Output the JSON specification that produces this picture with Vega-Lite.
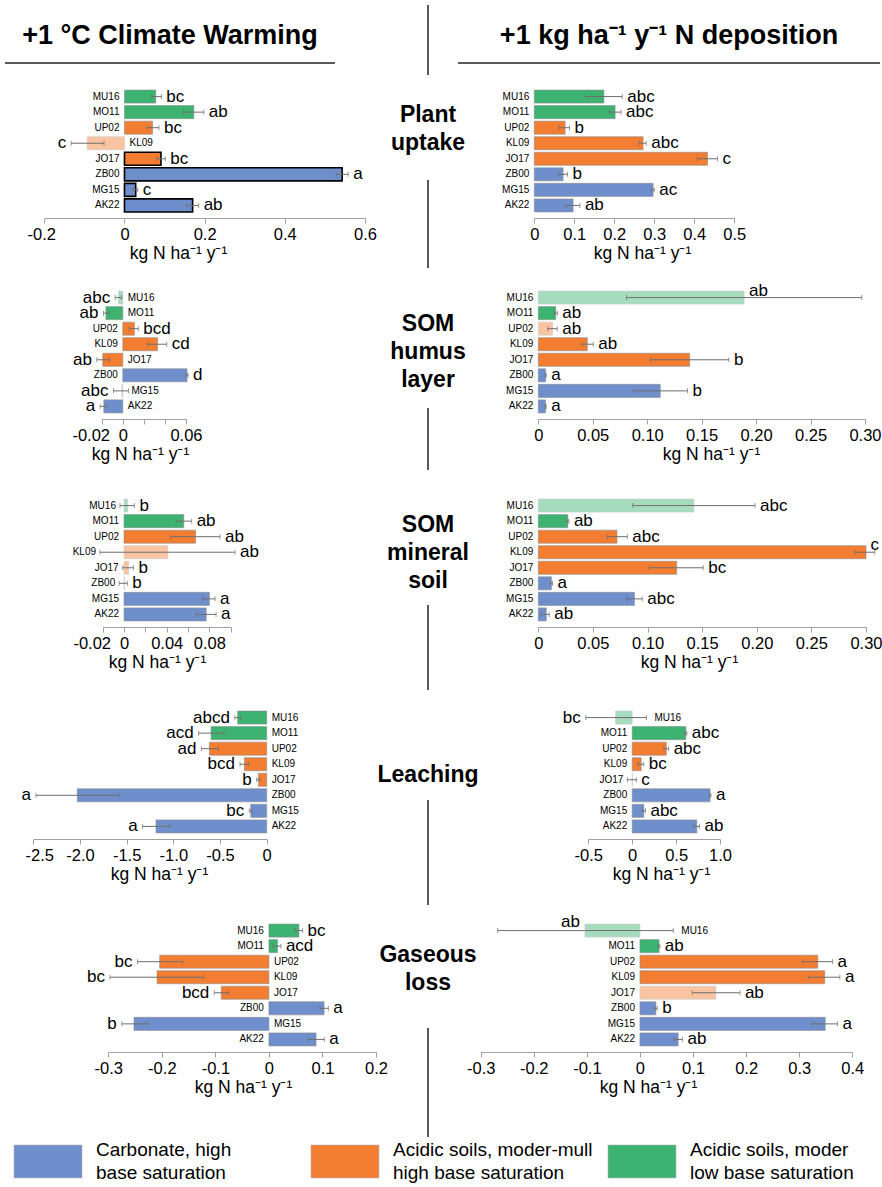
{
"$schema": "https://vega.github.io/schema/vega-lite/v6.json",
"padding": 0,
"background": "white",
"columns": 3,
"spacing": 0,
"bounds": "flush",
"align": "each",
"config": {
 "view": {"stroke": null},
 "font": "Liberation Sans",
 "locale": {"number": {"decimal": ".", "thousands": ",", "grouping": [3], "currency": ["$", ""], "minus": "-"}},
 "axis": {"domainColor": "#a0a0a0", "tickColor": "#a0a0a0", "tickSize": 5, "domainWidth": 1.2, "labelFontSize": 16.5, "labelColor": "#000", "titleFontSize": 17.5, "titleFontWeight": "normal", "titleColor": "#000", "grid": false, "labelFlush": false, "labelOverlap": false, "labelPadding": 3, "titlePadding": 2},
 "text": {"color": "#000"}
},
"datasets": {
 "sites": [
  {"site": "MU16", "group": "Moder"}, {"site": "MO11", "group": "Moder"},
  {"site": "UP02", "group": "ModerMull"}, {"site": "KL09", "group": "ModerMull"}, {"site": "JO17", "group": "ModerMull"},
  {"site": "ZB00", "group": "Carbonate"}, {"site": "MG15", "group": "Carbonate"}, {"site": "AK22", "group": "Carbonate"}
 ],
 "groups": [
  {"group": "Carbonate", "label": "Carbonate, high\nbase saturation"},
  {"group": "ModerMull", "label": "Acidic soils, moder-mull\nhigh base saturation"},
  {"group": "Moder", "label": "Acidic soils, moder\nlow base saturation"}
 ],
 "flux": [
  {"panel": "uptake_cw", "site": "MU16", "value": 0.078, "lo": 0.068, "hi": 0.092, "letter": "bc"},
  {"panel": "uptake_cw", "site": "MO11", "value": 0.173, "lo": 0.146, "hi": 0.198, "letter": "ab"},
  {"panel": "uptake_cw", "site": "UP02", "value": 0.070, "lo": 0.056, "hi": 0.086, "letter": "bc"},
  {"panel": "uptake_cw", "site": "KL09", "value": -0.093, "lo": -0.133, "hi": -0.051, "letter": "c", "uncertain": true},
  {"panel": "uptake_cw", "site": "JO17", "value": 0.091, "lo": 0.080, "hi": 0.102, "letter": "bc", "emphasis": true},
  {"panel": "uptake_cw", "site": "ZB00", "value": 0.543, "lo": 0.528, "hi": 0.558, "letter": "a", "emphasis": true},
  {"panel": "uptake_cw", "site": "MG15", "value": 0.028, "lo": 0.022, "hi": 0.033, "letter": "c", "emphasis": true},
  {"panel": "uptake_cw", "site": "AK22", "value": 0.170, "lo": 0.155, "hi": 0.185, "letter": "ab", "emphasis": true},

  {"panel": "uptake_nd", "site": "MU16", "value": 0.174, "lo": 0.128, "hi": 0.220, "letter": "abc"},
  {"panel": "uptake_nd", "site": "MO11", "value": 0.202, "lo": 0.187, "hi": 0.217, "letter": "abc"},
  {"panel": "uptake_nd", "site": "UP02", "value": 0.077, "lo": 0.062, "hi": 0.088, "letter": "b"},
  {"panel": "uptake_nd", "site": "KL09", "value": 0.272, "lo": 0.262, "hi": 0.280, "letter": "abc"},
  {"panel": "uptake_nd", "site": "JO17", "value": 0.433, "lo": 0.408, "hi": 0.458, "letter": "c"},
  {"panel": "uptake_nd", "site": "ZB00", "value": 0.072, "lo": 0.060, "hi": 0.083, "letter": "b"},
  {"panel": "uptake_nd", "site": "MG15", "value": 0.297, "lo": 0.293, "hi": 0.300, "letter": "ac"},
  {"panel": "uptake_nd", "site": "AK22", "value": 0.097, "lo": 0.079, "hi": 0.114, "letter": "ab"},

  {"panel": "humus_cw", "site": "MU16", "value": -0.0041, "lo": -0.0072, "hi": -0.0010, "letter": "abc", "uncertain": true},
  {"panel": "humus_cw", "site": "MO11", "value": -0.0160, "lo": -0.0183, "hi": -0.0126, "letter": "ab"},
  {"panel": "humus_cw", "site": "UP02", "value": 0.0110, "lo": 0.0060, "hi": 0.0148, "letter": "bcd"},
  {"panel": "humus_cw", "site": "KL09", "value": 0.0330, "lo": 0.0234, "hi": 0.0417, "letter": "cd"},
  {"panel": "humus_cw", "site": "JO17", "value": -0.0190, "lo": -0.0246, "hi": -0.0126, "letter": "ab"},
  {"panel": "humus_cw", "site": "ZB00", "value": 0.0610, "lo": 0.0600, "hi": 0.0620, "letter": "d"},
  {"panel": "humus_cw", "site": "MG15", "value": -0.0008, "lo": -0.0088, "hi": 0.0054, "letter": "abc", "uncertain": true},
  {"panel": "humus_cw", "site": "AK22", "value": -0.0180, "lo": -0.0215, "hi": -0.0152, "letter": "a"},

  {"panel": "humus_nd", "site": "MU16", "value": 0.189, "lo": 0.081, "hi": 0.297, "letter": "ab", "uncertain": true},
  {"panel": "humus_nd", "site": "MO11", "value": 0.016, "lo": 0.0145, "hi": 0.0175, "letter": "ab"},
  {"panel": "humus_nd", "site": "UP02", "value": 0.013, "lo": 0.0086, "hi": 0.0174, "letter": "ab", "uncertain": true},
  {"panel": "humus_nd", "site": "KL09", "value": 0.045, "lo": 0.040, "hi": 0.0505, "letter": "ab"},
  {"panel": "humus_nd", "site": "JO17", "value": 0.139, "lo": 0.103, "hi": 0.175, "letter": "b"},
  {"panel": "humus_nd", "site": "ZB00", "value": 0.0067, "lo": 0.0062, "hi": 0.0072, "letter": "a"},
  {"panel": "humus_nd", "site": "MG15", "value": 0.112, "lo": 0.087, "hi": 0.137, "letter": "b"},
  {"panel": "humus_nd", "site": "AK22", "value": 0.0067, "lo": 0.0062, "hi": 0.0072, "letter": "a"},

  {"panel": "mineral_cw", "site": "MU16", "value": 0.0034, "lo": -0.0038, "hi": 0.0097, "letter": "b", "uncertain": true},
  {"panel": "mineral_cw", "site": "MO11", "value": 0.056, "lo": 0.0488, "hi": 0.0634, "letter": "ab"},
  {"panel": "mineral_cw", "site": "UP02", "value": 0.067, "lo": 0.0438, "hi": 0.090, "letter": "ab"},
  {"panel": "mineral_cw", "site": "KL09", "value": 0.041, "lo": -0.0225, "hi": 0.104, "letter": "ab", "uncertain": true},
  {"panel": "mineral_cw", "site": "JO17", "value": 0.0044, "lo": -0.0013, "hi": 0.0088, "letter": "b", "uncertain": true},
  {"panel": "mineral_cw", "site": "ZB00", "value": 0.0003, "lo": -0.0045, "hi": 0.0031, "letter": "b", "uncertain": true},
  {"panel": "mineral_cw", "site": "MG15", "value": 0.080, "lo": 0.0738, "hi": 0.0853, "letter": "a"},
  {"panel": "mineral_cw", "site": "AK22", "value": 0.077, "lo": 0.0675, "hi": 0.0863, "letter": "a"},

  {"panel": "mineral_nd", "site": "MU16", "value": 0.1425, "lo": 0.0864, "hi": 0.1984, "letter": "abc", "uncertain": true},
  {"panel": "mineral_nd", "site": "MO11", "value": 0.027, "lo": 0.026, "hi": 0.028, "letter": "ab"},
  {"panel": "mineral_nd", "site": "UP02", "value": 0.072, "lo": 0.063, "hi": 0.0815, "letter": "abc"},
  {"panel": "mineral_nd", "site": "KL09", "value": 0.300, "lo": 0.290, "hi": 0.308, "letter": "c"},
  {"panel": "mineral_nd", "site": "JO17", "value": 0.1267, "lo": 0.1016, "hi": 0.151, "letter": "bc"},
  {"panel": "mineral_nd", "site": "ZB00", "value": 0.012, "lo": 0.011, "hi": 0.013, "letter": "a"},
  {"panel": "mineral_nd", "site": "MG15", "value": 0.088, "lo": 0.0809, "hi": 0.0952, "letter": "abc"},
  {"panel": "mineral_nd", "site": "AK22", "value": 0.0073, "lo": 0.0021, "hi": 0.0101, "letter": "ab"},

  {"panel": "leach_cw", "site": "MU16", "value": -0.311, "lo": -0.34, "hi": -0.28, "letter": "abcd"},
  {"panel": "leach_cw", "site": "MO11", "value": -0.596, "lo": -0.729, "hi": -0.457, "letter": "acd"},
  {"panel": "leach_cw", "site": "UP02", "value": -0.614, "lo": -0.700, "hi": -0.518, "letter": "ad"},
  {"panel": "leach_cw", "site": "KL09", "value": -0.239, "lo": -0.286, "hi": -0.196, "letter": "bcd"},
  {"panel": "leach_cw", "site": "JO17", "value": -0.089, "lo": -0.107, "hi": -0.071, "letter": "b"},
  {"panel": "leach_cw", "site": "ZB00", "value": -2.029, "lo": -2.471, "hi": -1.582, "letter": "a"},
  {"panel": "leach_cw", "site": "MG15", "value": -0.171, "lo": -0.186, "hi": -0.157, "letter": "bc"},
  {"panel": "leach_cw", "site": "AK22", "value": -1.186, "lo": -1.329, "hi": -1.036, "letter": "a"},

  {"panel": "leach_nd", "site": "MU16", "value": -0.189, "lo": -0.528, "hi": 0.162, "letter": "bc", "uncertain": true},
  {"panel": "leach_nd", "site": "MO11", "value": 0.611, "lo": 0.600, "hi": 0.622, "letter": "abc"},
  {"panel": "leach_nd", "site": "UP02", "value": 0.389, "lo": 0.360, "hi": 0.415, "letter": "abc"},
  {"panel": "leach_nd", "site": "KL09", "value": 0.102, "lo": 0.064, "hi": 0.132, "letter": "bc"},
  {"panel": "leach_nd", "site": "JO17", "value": 0.003, "lo": -0.055, "hi": 0.047, "letter": "c", "uncertain": true},
  {"panel": "leach_nd", "site": "ZB00", "value": 0.887, "lo": 0.877, "hi": 0.897, "letter": "a"},
  {"panel": "leach_nd", "site": "MG15", "value": 0.132, "lo": 0.113, "hi": 0.151, "letter": "abc"},
  {"panel": "leach_nd", "site": "AK22", "value": 0.736, "lo": 0.700, "hi": 0.766, "letter": "ab"},

  {"panel": "gas_cw", "site": "MU16", "value": 0.056, "lo": 0.0486, "hi": 0.0629, "letter": "bc"},
  {"panel": "gas_cw", "site": "MO11", "value": 0.016, "lo": 0.0081, "hi": 0.0224, "letter": "acd"},
  {"panel": "gas_cw", "site": "UP02", "value": -0.204, "lo": -0.2455, "hi": -0.161, "letter": "bc"},
  {"panel": "gas_cw", "site": "KL09", "value": -0.209, "lo": -0.297, "hi": -0.1215, "letter": "bc"},
  {"panel": "gas_cw", "site": "JO17", "value": -0.089, "lo": -0.102, "hi": -0.075, "letter": "bcd"},
  {"panel": "gas_cw", "site": "ZB00", "value": 0.103, "lo": 0.0953, "hi": 0.111, "letter": "a"},
  {"panel": "gas_cw", "site": "MG15", "value": -0.252, "lo": -0.2748, "hi": -0.2268, "letter": "b"},
  {"panel": "gas_cw", "site": "AK22", "value": 0.088, "lo": 0.0735, "hi": 0.1034, "letter": "a"},

  {"panel": "gas_nd", "site": "MU16", "value": -0.1036, "lo": -0.268, "hi": 0.0628, "letter": "ab", "uncertain": true},
  {"panel": "gas_nd", "site": "MO11", "value": 0.036, "lo": 0.0345, "hi": 0.0375, "letter": "ab"},
  {"panel": "gas_nd", "site": "UP02", "value": 0.335, "lo": 0.3063, "hi": 0.3628, "letter": "a"},
  {"panel": "gas_nd", "site": "KL09", "value": 0.348, "lo": 0.317, "hi": 0.3766, "letter": "a"},
  {"panel": "gas_nd", "site": "JO17", "value": 0.143, "lo": 0.0986, "hi": 0.1883, "letter": "ab", "uncertain": true},
  {"panel": "gas_nd", "site": "ZB00", "value": 0.030, "lo": 0.0275, "hi": 0.0325, "letter": "b"},
  {"panel": "gas_nd", "site": "MG15", "value": 0.349, "lo": 0.325, "hi": 0.372, "letter": "a"},
  {"panel": "gas_nd", "site": "AK22", "value": 0.072, "lo": 0.064, "hi": 0.080, "letter": "ab"}
 ]
},
"concat": [
 {"width": 410, "height": 63, "data": {"values": [{}]}, "layer": [
  {"mark": {"type": "text", "text": "+1 °C Climate Warming", "fontSize": 27, "fontWeight": "bold", "dy": 4}, "encoding": {"x": {"datum": 0.5, "type": "quantitative", "scale": {"domain": [0, 1], "range": [5, 335]}, "axis": null}}},
  {"mark": {"type": "rule", "strokeWidth": 1.5, "color": "#222"}, "encoding": {"x": {"datum": 0, "type": "quantitative", "scale": {"domain": [0, 1], "range": [5, 335]}, "axis": null}, "x2": {"datum": 1}, "y": {"datum": 0, "type": "quantitative", "scale": {"domain": [0, 1]}, "axis": null}}}
 ]},
 {"width": 36, "height": 84, "data": {"values": [{}]}, "mark": {"type": "rule", "strokeWidth": 1.3, "color": "#000"}, "encoding": {"y": {"datum": 0.06, "type": "quantitative", "scale": {"domain": [0, 1], "reverse": true}, "axis": null}, "y2": {"datum": 0.893}}},
 {"width": 436, "height": 63, "data": {"values": [{}]}, "layer": [
  {"mark": {"type": "text", "text": "+1 kg ha⁻¹ y⁻¹ N deposition", "fontSize": 27, "fontWeight": "bold", "dy": 4}, "encoding": {"x": {"datum": 0.5, "type": "quantitative", "scale": {"domain": [0, 1], "range": [12, 434]}, "axis": null}}},
  {"mark": {"type": "rule", "strokeWidth": 1.5, "color": "#222"}, "encoding": {"x": {"datum": 0, "type": "quantitative", "scale": {"domain": [0, 1], "range": [12, 434]}, "axis": null}, "x2": {"datum": 1}, "y": {"datum": 0, "type": "quantitative", "scale": {"domain": [0, 1]}, "axis": null}}}
 ]},

 {"width": 410, "height": 134, "data": {"name": "flux"},
  "transform": [{"filter": "datum.panel === 'uptake_cw'"}, {"lookup": "site", "from": {"data": {"name": "sites"}, "key": "site", "fields": ["group"]}}],
  "encoding": {"y": {"field": "site", "type": "nominal", "sort": ["MU16", "MO11", "UP02", "KL09", "JO17", "ZB00", "MG15", "AK22"], "scale": {"paddingInner": 0.16, "paddingOuter": 0.39}, "axis": null}},
  "layer": [
   {"mark": {"type": "bar"}, "encoding": {
    "x": {"field": "value", "type": "quantitative", "title": "kg N ha⁻¹ y⁻¹", "scale": {"domain": [-0.2, 0.6], "range": [44.3, 365], "nice": false}, "axis": {"values": [-0.2, 0, 0.2, 0.4, 0.6], "format": ".1~f", "titleX": 178, "labelOffset": {"condition": {"test": "datum.value < 0", "value": -3}, "value": 0}}},
    "color": {"field": "group", "type": "nominal", "scale": {"domain": ["Carbonate", "ModerMull", "Moder"], "range": ["#6f8fcc", "#f37d31", "#3cb371"]}, "legend": null},
    "opacity": {"condition": {"test": "datum.uncertain", "value": 0.45}, "value": 1},
    "stroke": {"condition": {"test": "datum.emphasis", "value": "#000000"}, "value": "#8c8c8c"},
    "strokeWidth": {"condition": {"test": "datum.emphasis", "value": 1.6}, "value": 0.6}}},
   {"mark": {"type": "errorbar", "ticks": true, "size": 5, "thickness": 1, "color": "#6e6e6e"}, "encoding": {"x": {"field": "lo", "type": "quantitative", "title": "kg N ha⁻¹ y⁻¹"}, "x2": {"field": "hi"}}},
   {"transform": [{"filter": "datum.value >= 0 && datum.lo >= 0"}], "mark": {"type": "text", "align": "right", "dx": -5, "fontSize": 10}, "encoding": {"x": {"datum": 0, "type": "quantitative", "title": "kg N ha⁻¹ y⁻¹"}, "text": {"field": "site"}}},
   {"transform": [{"filter": "datum.value >= 0 && datum.lo < 0"}], "mark": {"type": "text", "align": "right", "dx": -4, "fontSize": 10}, "encoding": {"x": {"field": "lo", "type": "quantitative", "title": "kg N ha⁻¹ y⁻¹"}, "text": {"field": "site"}}},
   {"transform": [{"filter": "datum.value < 0 && datum.hi <= 0"}], "mark": {"type": "text", "align": "left", "dx": 5, "fontSize": 10}, "encoding": {"x": {"datum": 0, "type": "quantitative", "title": "kg N ha⁻¹ y⁻¹"}, "text": {"field": "site"}}},
   {"transform": [{"filter": "datum.value < 0 && datum.hi > 0"}], "mark": {"type": "text", "align": "left", "dx": 5, "fontSize": 10}, "encoding": {"x": {"field": "hi", "type": "quantitative", "title": "kg N ha⁻¹ y⁻¹"}, "text": {"field": "site"}}},
   {"transform": [{"filter": "datum.value >= 0"}], "mark": {"type": "text", "align": "left", "dx": 5, "fontSize": 17}, "encoding": {"x": {"field": "hi", "type": "quantitative", "title": "kg N ha⁻¹ y⁻¹"}, "text": {"field": "letter"}}},
   {"transform": [{"filter": "datum.value < 0"}], "mark": {"type": "text", "align": "right", "dx": -5, "fontSize": 17}, "encoding": {"x": {"field": "lo", "type": "quantitative", "title": "kg N ha⁻¹ y⁻¹"}, "text": {"field": "letter"}}}
  ]},
 {"width": 36, "height": 201, "data": {"values": [{}]}, "layer": [
  {"mark": {"type": "text", "text": ["Plant", "uptake"], "fontSize": 23, "fontWeight": "bold", "lineHeight": 28, "dy": -14}, "encoding": {"y": {"datum": 0.224, "type": "quantitative", "scale": {"domain": [0, 1], "reverse": true}, "axis": null}}},
  {"mark": {"type": "rule", "strokeWidth": 1.3, "color": "#000"}, "encoding": {"y": {"datum": 0.478, "type": "quantitative", "scale": {"domain": [0, 1], "reverse": true}, "axis": null}, "y2": {"datum": 0.915}}}
 ]},
 {"width": 436, "height": 134, "data": {"name": "flux"},
  "transform": [{"filter": "datum.panel === 'uptake_nd'"}, {"lookup": "site", "from": {"data": {"name": "sites"}, "key": "site", "fields": ["group"]}}],
  "encoding": {"y": {"field": "site", "type": "nominal", "sort": ["MU16", "MO11", "UP02", "KL09", "JO17", "ZB00", "MG15", "AK22"], "scale": {"paddingInner": 0.16, "paddingOuter": 0.39}, "axis": null}},
  "layer": [
   {"mark": {"type": "bar"}, "encoding": {
    "x": {"field": "value", "type": "quantitative", "title": "kg N ha⁻¹ y⁻¹", "scale": {"domain": [0, 0.5], "range": [88.3, 288.3], "nice": false}, "axis": {"values": [0, 0.1, 0.2, 0.3, 0.4, 0.5], "format": ".1~f", "titleX": 196}},
    "color": {"field": "group", "type": "nominal", "scale": {"domain": ["Carbonate", "ModerMull", "Moder"], "range": ["#6f8fcc", "#f37d31", "#3cb371"]}, "legend": null},
    "opacity": {"condition": {"test": "datum.uncertain", "value": 0.45}, "value": 1},
    "stroke": {"condition": {"test": "datum.emphasis", "value": "#000000"}, "value": "#8c8c8c"},
    "strokeWidth": {"condition": {"test": "datum.emphasis", "value": 1.6}, "value": 0.6}}},
   {"mark": {"type": "errorbar", "ticks": true, "size": 5, "thickness": 1, "color": "#6e6e6e"}, "encoding": {"x": {"field": "lo", "type": "quantitative", "title": "kg N ha⁻¹ y⁻¹"}, "x2": {"field": "hi"}}},
   {"transform": [{"filter": "datum.value >= 0 && datum.lo >= 0"}], "mark": {"type": "text", "align": "right", "dx": -5, "fontSize": 10}, "encoding": {"x": {"datum": 0, "type": "quantitative", "title": "kg N ha⁻¹ y⁻¹"}, "text": {"field": "site"}}},
   {"transform": [{"filter": "datum.value >= 0 && datum.lo < 0"}], "mark": {"type": "text", "align": "right", "dx": -4, "fontSize": 10}, "encoding": {"x": {"field": "lo", "type": "quantitative", "title": "kg N ha⁻¹ y⁻¹"}, "text": {"field": "site"}}},
   {"transform": [{"filter": "datum.value < 0 && datum.hi <= 0"}], "mark": {"type": "text", "align": "left", "dx": 5, "fontSize": 10}, "encoding": {"x": {"datum": 0, "type": "quantitative", "title": "kg N ha⁻¹ y⁻¹"}, "text": {"field": "site"}}},
   {"transform": [{"filter": "datum.value < 0 && datum.hi > 0"}], "mark": {"type": "text", "align": "left", "dx": 5, "fontSize": 10}, "encoding": {"x": {"field": "hi", "type": "quantitative", "title": "kg N ha⁻¹ y⁻¹"}, "text": {"field": "site"}}},
   {"transform": [{"filter": "datum.value >= 0"}], "mark": {"type": "text", "align": "left", "dx": 5, "fontSize": 17}, "encoding": {"x": {"field": "hi", "type": "quantitative", "title": "kg N ha⁻¹ y⁻¹"}, "text": {"field": "letter"}}},
   {"transform": [{"filter": "datum.value < 0"}], "mark": {"type": "text", "align": "right", "dx": -5, "fontSize": 17}, "encoding": {"x": {"field": "lo", "type": "quantitative", "title": "kg N ha⁻¹ y⁻¹"}, "text": {"field": "letter"}}}
  ]},

 {"width": 410, "height": 134, "data": {"name": "flux"},
  "transform": [{"filter": "datum.panel === 'humus_cw'"}, {"lookup": "site", "from": {"data": {"name": "sites"}, "key": "site", "fields": ["group"]}}],
  "encoding": {"y": {"field": "site", "type": "nominal", "sort": ["MU16", "MO11", "UP02", "KL09", "JO17", "ZB00", "MG15", "AK22"], "scale": {"paddingInner": 0.16, "paddingOuter": 0.39}, "axis": null}},
  "layer": [
   {"mark": {"type": "bar"}, "encoding": {
    "x": {"field": "value", "type": "quantitative", "title": "kg N ha⁻¹ y⁻¹", "scale": {"domain": [-0.02, 0.06], "range": [101.7, 186], "nice": false}, "axis": {"values": [-0.02, 0, 0.02, 0.04, 0.06], "titleX": 140, "labelExpr": "datum.value === 0.02 || datum.value === 0.04 ? '' : datum.value === 0 ? '0' : format(datum.value, '.2f')", "labelOffset": {"condition": {"test": "datum.value < 0", "value": -11}, "value": 0}}},
    "color": {"field": "group", "type": "nominal", "scale": {"domain": ["Carbonate", "ModerMull", "Moder"], "range": ["#6f8fcc", "#f37d31", "#3cb371"]}, "legend": null},
    "opacity": {"condition": {"test": "datum.uncertain", "value": 0.45}, "value": 1},
    "stroke": {"condition": {"test": "datum.emphasis", "value": "#000000"}, "value": "#8c8c8c"},
    "strokeWidth": {"condition": {"test": "datum.emphasis", "value": 1.6}, "value": 0.6}}},
   {"mark": {"type": "errorbar", "ticks": true, "size": 5, "thickness": 1, "color": "#6e6e6e"}, "encoding": {"x": {"field": "lo", "type": "quantitative", "title": "kg N ha⁻¹ y⁻¹"}, "x2": {"field": "hi"}}},
   {"transform": [{"filter": "datum.value >= 0 && datum.lo >= 0"}], "mark": {"type": "text", "align": "right", "dx": -5, "fontSize": 10}, "encoding": {"x": {"datum": 0, "type": "quantitative", "title": "kg N ha⁻¹ y⁻¹"}, "text": {"field": "site"}}},
   {"transform": [{"filter": "datum.value >= 0 && datum.lo < 0"}], "mark": {"type": "text", "align": "right", "dx": -4, "fontSize": 10}, "encoding": {"x": {"field": "lo", "type": "quantitative", "title": "kg N ha⁻¹ y⁻¹"}, "text": {"field": "site"}}},
   {"transform": [{"filter": "datum.value < 0 && datum.hi <= 0"}], "mark": {"type": "text", "align": "left", "dx": 5, "fontSize": 10}, "encoding": {"x": {"datum": 0, "type": "quantitative", "title": "kg N ha⁻¹ y⁻¹"}, "text": {"field": "site"}}},
   {"transform": [{"filter": "datum.value < 0 && datum.hi > 0"}], "mark": {"type": "text", "align": "left", "dx": 3, "fontSize": 10}, "encoding": {"x": {"field": "hi", "type": "quantitative", "title": "kg N ha⁻¹ y⁻¹"}, "text": {"field": "site"}}},
   {"transform": [{"filter": "datum.value >= 0"}], "mark": {"type": "text", "align": "left", "dx": 5, "fontSize": 17}, "encoding": {"x": {"field": "hi", "type": "quantitative", "title": "kg N ha⁻¹ y⁻¹"}, "text": {"field": "letter"}}},
   {"transform": [{"filter": "datum.value < 0"}], "mark": {"type": "text", "align": "right", "dx": -5, "fontSize": 17}, "encoding": {"x": {"field": "lo", "type": "quantitative", "title": "kg N ha⁻¹ y⁻¹"}, "text": {"field": "letter"}}}
  ]},
 {"width": 36, "height": 208, "data": {"values": [{}]}, "layer": [
  {"mark": {"type": "text", "text": ["SOM", "humus", "layer"], "fontSize": 23, "fontWeight": "bold", "lineHeight": 28, "dy": -28}, "encoding": {"y": {"datum": 0.322, "type": "quantitative", "scale": {"domain": [0, 1], "reverse": true}, "axis": null}}},
  {"mark": {"type": "rule", "strokeWidth": 1.3, "color": "#000"}, "encoding": {"y": {"datum": 0.591, "type": "quantitative", "scale": {"domain": [0, 1], "reverse": true}, "axis": null}, "y2": {"datum": 0.889}}}
 ]},
 {"width": 436, "height": 134, "data": {"name": "flux"},
  "transform": [{"filter": "datum.panel === 'humus_nd'"}, {"lookup": "site", "from": {"data": {"name": "sites"}, "key": "site", "fields": ["group"]}}],
  "encoding": {"y": {"field": "site", "type": "nominal", "sort": ["MU16", "MO11", "UP02", "KL09", "JO17", "ZB00", "MG15", "AK22"], "scale": {"paddingInner": 0.16, "paddingOuter": 0.39}, "axis": null}},
  "layer": [
   {"mark": {"type": "bar"}, "encoding": {
    "x": {"field": "value", "type": "quantitative", "title": "kg N ha⁻¹ y⁻¹", "scale": {"domain": [0, 0.3], "range": [92.3, 419], "nice": false}, "axis": {"values": [0, 0.05, 0.1, 0.15, 0.2, 0.25, 0.3], "titleX": 265, "labelExpr": "datum.value === 0 ? '0' : format(datum.value, '.2f')"}},
    "color": {"field": "group", "type": "nominal", "scale": {"domain": ["Carbonate", "ModerMull", "Moder"], "range": ["#6f8fcc", "#f37d31", "#3cb371"]}, "legend": null},
    "opacity": {"condition": {"test": "datum.uncertain", "value": 0.45}, "value": 1},
    "stroke": {"condition": {"test": "datum.emphasis", "value": "#000000"}, "value": "#8c8c8c"},
    "strokeWidth": {"condition": {"test": "datum.emphasis", "value": 1.6}, "value": 0.6}}},
   {"mark": {"type": "errorbar", "ticks": true, "size": 5, "thickness": 1, "color": "#6e6e6e"}, "encoding": {"x": {"field": "lo", "type": "quantitative", "title": "kg N ha⁻¹ y⁻¹"}, "x2": {"field": "hi"}}},
   {"transform": [{"filter": "datum.value >= 0 && datum.lo >= 0"}], "mark": {"type": "text", "align": "right", "dx": -5, "fontSize": 10}, "encoding": {"x": {"datum": 0, "type": "quantitative", "title": "kg N ha⁻¹ y⁻¹"}, "text": {"field": "site"}}},
   {"transform": [{"filter": "datum.value >= 0 && datum.lo < 0"}], "mark": {"type": "text", "align": "right", "dx": -4, "fontSize": 10}, "encoding": {"x": {"field": "lo", "type": "quantitative", "title": "kg N ha⁻¹ y⁻¹"}, "text": {"field": "site"}}},
   {"transform": [{"filter": "datum.value < 0 && datum.hi <= 0"}], "mark": {"type": "text", "align": "left", "dx": 5, "fontSize": 10}, "encoding": {"x": {"datum": 0, "type": "quantitative", "title": "kg N ha⁻¹ y⁻¹"}, "text": {"field": "site"}}},
   {"transform": [{"filter": "datum.value < 0 && datum.hi > 0"}], "mark": {"type": "text", "align": "left", "dx": 5, "fontSize": 10}, "encoding": {"x": {"field": "hi", "type": "quantitative", "title": "kg N ha⁻¹ y⁻¹"}, "text": {"field": "site"}}},
   {"transform": [{"filter": "datum.value >= 0 && datum.hi < 0.25"}], "mark": {"type": "text", "align": "left", "dx": 5, "fontSize": 17}, "encoding": {"x": {"field": "hi", "type": "quantitative", "title": "kg N ha⁻¹ y⁻¹"}, "text": {"field": "letter"}}},
   {"transform": [{"filter": "datum.hi >= 0.25"}], "mark": {"type": "text", "align": "left", "dx": 5, "dy": -7, "fontSize": 17}, "encoding": {"x": {"field": "value", "type": "quantitative", "title": "kg N ha⁻¹ y⁻¹"}, "text": {"field": "letter"}}},
   {"transform": [{"filter": "datum.value < 0"}], "mark": {"type": "text", "align": "right", "dx": -5, "fontSize": 17}, "encoding": {"x": {"field": "lo", "type": "quantitative", "title": "kg N ha⁻¹ y⁻¹"}, "text": {"field": "letter"}}}
  ]},

 {"width": 410, "height": 134, "data": {"name": "flux"},
  "transform": [{"filter": "datum.panel === 'mineral_cw'"}, {"lookup": "site", "from": {"data": {"name": "sites"}, "key": "site", "fields": ["group"]}}],
  "encoding": {"y": {"field": "site", "type": "nominal", "sort": ["MU16", "MO11", "UP02", "KL09", "JO17", "ZB00", "MG15", "AK22"], "scale": {"paddingInner": 0.16, "paddingOuter": 0.39}, "axis": null}},
  "layer": [
   {"mark": {"type": "bar"}, "encoding": {
    "x": {"field": "value", "type": "quantitative", "title": "kg N ha⁻¹ y⁻¹", "scale": {"domain": [-0.02, 0.1], "range": [102.7, 230.7], "nice": false}, "axis": {"values": [-0.02, 0, 0.02, 0.04, 0.06, 0.08, 0.1], "titleX": 157, "labelExpr": "datum.value === 0.02 || datum.value === 0.06 || datum.value === 0.1 ? '' : datum.value === 0 ? '0' : format(datum.value, '.2f')", "labelOffset": {"condition": {"test": "datum.value < 0", "value": -11}, "value": 0}}},
    "color": {"field": "group", "type": "nominal", "scale": {"domain": ["Carbonate", "ModerMull", "Moder"], "range": ["#6f8fcc", "#f37d31", "#3cb371"]}, "legend": null},
    "opacity": {"condition": {"test": "datum.uncertain", "value": 0.45}, "value": 1},
    "stroke": {"condition": {"test": "datum.emphasis", "value": "#000000"}, "value": "#8c8c8c"},
    "strokeWidth": {"condition": {"test": "datum.emphasis", "value": 1.6}, "value": 0.6}}},
   {"mark": {"type": "errorbar", "ticks": true, "size": 5, "thickness": 1, "color": "#6e6e6e"}, "encoding": {"x": {"field": "lo", "type": "quantitative", "title": "kg N ha⁻¹ y⁻¹"}, "x2": {"field": "hi"}}},
   {"transform": [{"filter": "datum.value >= 0 && datum.lo >= 0"}], "mark": {"type": "text", "align": "right", "dx": -5, "fontSize": 10}, "encoding": {"x": {"datum": 0, "type": "quantitative", "title": "kg N ha⁻¹ y⁻¹"}, "text": {"field": "site"}}},
   {"transform": [{"filter": "datum.value >= 0 && datum.lo < 0"}], "mark": {"type": "text", "align": "right", "dx": -4, "fontSize": 10}, "encoding": {"x": {"field": "lo", "type": "quantitative", "title": "kg N ha⁻¹ y⁻¹"}, "text": {"field": "site"}}},
   {"transform": [{"filter": "datum.value < 0 && datum.hi <= 0"}], "mark": {"type": "text", "align": "left", "dx": 5, "fontSize": 10}, "encoding": {"x": {"datum": 0, "type": "quantitative", "title": "kg N ha⁻¹ y⁻¹"}, "text": {"field": "site"}}},
   {"transform": [{"filter": "datum.value < 0 && datum.hi > 0"}], "mark": {"type": "text", "align": "left", "dx": 5, "fontSize": 10}, "encoding": {"x": {"field": "hi", "type": "quantitative", "title": "kg N ha⁻¹ y⁻¹"}, "text": {"field": "site"}}},
   {"transform": [{"filter": "datum.value >= 0"}], "mark": {"type": "text", "align": "left", "dx": 5, "fontSize": 17}, "encoding": {"x": {"field": "hi", "type": "quantitative", "title": "kg N ha⁻¹ y⁻¹"}, "text": {"field": "letter"}}},
   {"transform": [{"filter": "datum.value < 0"}], "mark": {"type": "text", "align": "right", "dx": -5, "fontSize": 17}, "encoding": {"x": {"field": "lo", "type": "quantitative", "title": "kg N ha⁻¹ y⁻¹"}, "text": {"field": "letter"}}}
  ]},
 {"width": 36, "height": 212, "data": {"values": [{}]}, "layer": [
  {"mark": {"type": "text", "text": ["SOM", "mineral", "soil"], "fontSize": 23, "fontWeight": "bold", "lineHeight": 28, "dy": -28}, "encoding": {"y": {"datum": 0.283, "type": "quantitative", "scale": {"domain": [0, 1], "reverse": true}, "axis": null}}},
  {"mark": {"type": "rule", "strokeWidth": 1.3, "color": "#000"}, "encoding": {"y": {"datum": 0.528, "type": "quantitative", "scale": {"domain": [0, 1], "reverse": true}, "axis": null}, "y2": {"datum": 0.929}}}
 ]},
 {"width": 436, "height": 134, "data": {"name": "flux"},
  "transform": [{"filter": "datum.panel === 'mineral_nd'"}, {"lookup": "site", "from": {"data": {"name": "sites"}, "key": "site", "fields": ["group"]}}],
  "encoding": {"y": {"field": "site", "type": "nominal", "sort": ["MU16", "MO11", "UP02", "KL09", "JO17", "ZB00", "MG15", "AK22"], "scale": {"paddingInner": 0.16, "paddingOuter": 0.39}, "axis": null}},
  "layer": [
   {"mark": {"type": "bar"}, "encoding": {
    "x": {"field": "value", "type": "quantitative", "title": "kg N ha⁻¹ y⁻¹", "scale": {"domain": [0, 0.3], "range": [92.3, 420], "nice": false}, "axis": {"values": [0, 0.05, 0.1, 0.15, 0.2, 0.25, 0.3], "titleX": 243, "labelExpr": "datum.value === 0 ? '0' : format(datum.value, '.2f')"}},
    "color": {"field": "group", "type": "nominal", "scale": {"domain": ["Carbonate", "ModerMull", "Moder"], "range": ["#6f8fcc", "#f37d31", "#3cb371"]}, "legend": null},
    "opacity": {"condition": {"test": "datum.uncertain", "value": 0.45}, "value": 1},
    "stroke": {"condition": {"test": "datum.emphasis", "value": "#000000"}, "value": "#8c8c8c"},
    "strokeWidth": {"condition": {"test": "datum.emphasis", "value": 1.6}, "value": 0.6}}},
   {"mark": {"type": "errorbar", "ticks": true, "size": 5, "thickness": 1, "color": "#6e6e6e"}, "encoding": {"x": {"field": "lo", "type": "quantitative", "title": "kg N ha⁻¹ y⁻¹"}, "x2": {"field": "hi"}}},
   {"transform": [{"filter": "datum.value >= 0 && datum.lo >= 0"}], "mark": {"type": "text", "align": "right", "dx": -5, "fontSize": 10}, "encoding": {"x": {"datum": 0, "type": "quantitative", "title": "kg N ha⁻¹ y⁻¹"}, "text": {"field": "site"}}},
   {"transform": [{"filter": "datum.value >= 0 && datum.lo < 0"}], "mark": {"type": "text", "align": "right", "dx": -4, "fontSize": 10}, "encoding": {"x": {"field": "lo", "type": "quantitative", "title": "kg N ha⁻¹ y⁻¹"}, "text": {"field": "site"}}},
   {"transform": [{"filter": "datum.value < 0 && datum.hi <= 0"}], "mark": {"type": "text", "align": "left", "dx": 5, "fontSize": 10}, "encoding": {"x": {"datum": 0, "type": "quantitative", "title": "kg N ha⁻¹ y⁻¹"}, "text": {"field": "site"}}},
   {"transform": [{"filter": "datum.value < 0 && datum.hi > 0"}], "mark": {"type": "text", "align": "left", "dx": 5, "fontSize": 10}, "encoding": {"x": {"field": "hi", "type": "quantitative", "title": "kg N ha⁻¹ y⁻¹"}, "text": {"field": "site"}}},
   {"transform": [{"filter": "datum.value >= 0 && datum.hi < 0.3"}], "mark": {"type": "text", "align": "left", "dx": 5, "fontSize": 17}, "encoding": {"x": {"field": "hi", "type": "quantitative", "title": "kg N ha⁻¹ y⁻¹"}, "text": {"field": "letter"}}},
   {"transform": [{"filter": "datum.hi >= 0.3"}], "mark": {"type": "text", "align": "center", "dy": -7, "fontSize": 17}, "encoding": {"x": {"field": "hi", "type": "quantitative", "title": "kg N ha⁻¹ y⁻¹"}, "text": {"field": "letter"}}},
   {"transform": [{"filter": "datum.value < 0"}], "mark": {"type": "text", "align": "right", "dx": -5, "fontSize": 17}, "encoding": {"x": {"field": "lo", "type": "quantitative", "title": "kg N ha⁻¹ y⁻¹"}, "text": {"field": "letter"}}}
  ]},

 {"width": 410, "height": 134, "data": {"name": "flux"},
  "transform": [{"filter": "datum.panel === 'leach_cw'"}, {"lookup": "site", "from": {"data": {"name": "sites"}, "key": "site", "fields": ["group"]}}],
  "encoding": {"y": {"field": "site", "type": "nominal", "sort": ["MU16", "MO11", "UP02", "KL09", "JO17", "ZB00", "MG15", "AK22"], "scale": {"paddingInner": 0.16, "paddingOuter": 0.39}, "axis": null}},
  "layer": [
   {"mark": {"type": "bar"}, "encoding": {
    "x": {"field": "value", "type": "quantitative", "title": "kg N ha⁻¹ y⁻¹", "scale": {"domain": [-2.5, 0], "range": [33.3, 266.7], "nice": false}, "axis": {"values": [-2.5, -2, -1.5, -1, -0.5, 0], "titleX": 159, "labelExpr": "datum.value === 0 ? '0' : format(datum.value, '.1f')", "labelOffset": {"condition": {"test": "datum.value === -2.5", "value": 6}, "value": 0}}},
    "color": {"field": "group", "type": "nominal", "scale": {"domain": ["Carbonate", "ModerMull", "Moder"], "range": ["#6f8fcc", "#f37d31", "#3cb371"]}, "legend": null},
    "opacity": {"condition": {"test": "datum.uncertain", "value": 0.45}, "value": 1},
    "stroke": {"condition": {"test": "datum.emphasis", "value": "#000000"}, "value": "#8c8c8c"},
    "strokeWidth": {"condition": {"test": "datum.emphasis", "value": 1.6}, "value": 0.6}}},
   {"mark": {"type": "errorbar", "ticks": true, "size": 5, "thickness": 1, "color": "#6e6e6e"}, "encoding": {"x": {"field": "lo", "type": "quantitative", "title": "kg N ha⁻¹ y⁻¹"}, "x2": {"field": "hi"}}},
   {"transform": [{"filter": "datum.value >= 0 && datum.lo >= 0"}], "mark": {"type": "text", "align": "right", "dx": -5, "fontSize": 10}, "encoding": {"x": {"datum": 0, "type": "quantitative", "title": "kg N ha⁻¹ y⁻¹"}, "text": {"field": "site"}}},
   {"transform": [{"filter": "datum.value >= 0 && datum.lo < 0"}], "mark": {"type": "text", "align": "right", "dx": -4, "fontSize": 10}, "encoding": {"x": {"field": "lo", "type": "quantitative", "title": "kg N ha⁻¹ y⁻¹"}, "text": {"field": "site"}}},
   {"transform": [{"filter": "datum.value < 0 && datum.hi <= 0"}], "mark": {"type": "text", "align": "left", "dx": 5, "fontSize": 10}, "encoding": {"x": {"datum": 0, "type": "quantitative", "title": "kg N ha⁻¹ y⁻¹"}, "text": {"field": "site"}}},
   {"transform": [{"filter": "datum.value < 0 && datum.hi > 0"}], "mark": {"type": "text", "align": "left", "dx": 5, "fontSize": 10}, "encoding": {"x": {"field": "hi", "type": "quantitative", "title": "kg N ha⁻¹ y⁻¹"}, "text": {"field": "site"}}},
   {"transform": [{"filter": "datum.value >= 0"}], "mark": {"type": "text", "align": "left", "dx": 5, "fontSize": 17}, "encoding": {"x": {"field": "hi", "type": "quantitative", "title": "kg N ha⁻¹ y⁻¹"}, "text": {"field": "letter"}}},
   {"transform": [{"filter": "datum.value < 0"}], "mark": {"type": "text", "align": "right", "dx": -5, "fontSize": 17}, "encoding": {"x": {"field": "lo", "type": "quantitative", "title": "kg N ha⁻¹ y⁻¹"}, "text": {"field": "letter"}}}
  ]},
 {"width": 36, "height": 213, "data": {"values": [{}]}, "layer": [
  {"mark": {"type": "text", "text": "Leaching", "fontSize": 23, "fontWeight": "bold"}, "encoding": {"y": {"datum": 0.329, "type": "quantitative", "scale": {"domain": [0, 1], "reverse": true}, "axis": null}}},
  {"mark": {"type": "rule", "strokeWidth": 1.3, "color": "#000"}, "encoding": {"y": {"datum": 0.446, "type": "quantitative", "scale": {"domain": [0, 1], "reverse": true}, "axis": null}, "y2": {"datum": 0.939}}}
 ]},
 {"width": 436, "height": 134, "data": {"name": "flux"},
  "transform": [{"filter": "datum.panel === 'leach_nd'"}, {"lookup": "site", "from": {"data": {"name": "sites"}, "key": "site", "fields": ["group"]}}],
  "encoding": {"y": {"field": "site", "type": "nominal", "sort": ["MU16", "MO11", "UP02", "KL09", "JO17", "ZB00", "MG15", "AK22"], "scale": {"paddingInner": 0.16, "paddingOuter": 0.39}, "axis": null}},
  "layer": [
   {"mark": {"type": "bar"}, "encoding": {
    "x": {"field": "value", "type": "quantitative", "title": "kg N ha⁻¹ y⁻¹", "scale": {"domain": [-0.5, 1], "range": [142.3, 274], "nice": false}, "axis": {"values": [-0.5, 0, 0.5, 1], "titleX": 215, "labelExpr": "datum.value === 0 ? '0' : format(datum.value, '.1f')"}},
    "color": {"field": "group", "type": "nominal", "scale": {"domain": ["Carbonate", "ModerMull", "Moder"], "range": ["#6f8fcc", "#f37d31", "#3cb371"]}, "legend": null},
    "opacity": {"condition": {"test": "datum.uncertain", "value": 0.45}, "value": 1},
    "stroke": {"condition": {"test": "datum.emphasis", "value": "#000000"}, "value": "#8c8c8c"},
    "strokeWidth": {"condition": {"test": "datum.emphasis", "value": 1.6}, "value": 0.6}}},
   {"mark": {"type": "errorbar", "ticks": true, "size": 5, "thickness": 1, "color": "#6e6e6e"}, "encoding": {"x": {"field": "lo", "type": "quantitative", "title": "kg N ha⁻¹ y⁻¹"}, "x2": {"field": "hi"}}},
   {"transform": [{"filter": "datum.value >= 0 && datum.lo >= 0"}], "mark": {"type": "text", "align": "right", "dx": -5, "fontSize": 10}, "encoding": {"x": {"datum": 0, "type": "quantitative", "title": "kg N ha⁻¹ y⁻¹"}, "text": {"field": "site"}}},
   {"transform": [{"filter": "datum.value >= 0 && datum.lo < 0"}], "mark": {"type": "text", "align": "right", "dx": -4, "fontSize": 10}, "encoding": {"x": {"field": "lo", "type": "quantitative", "title": "kg N ha⁻¹ y⁻¹"}, "text": {"field": "site"}}},
   {"transform": [{"filter": "datum.value < 0 && datum.hi <= 0"}], "mark": {"type": "text", "align": "left", "dx": 5, "fontSize": 10}, "encoding": {"x": {"datum": 0, "type": "quantitative", "title": "kg N ha⁻¹ y⁻¹"}, "text": {"field": "site"}}},
   {"transform": [{"filter": "datum.value < 0 && datum.hi > 0"}], "mark": {"type": "text", "align": "left", "dx": 8, "fontSize": 10}, "encoding": {"x": {"field": "hi", "type": "quantitative", "title": "kg N ha⁻¹ y⁻¹"}, "text": {"field": "site"}}},
   {"transform": [{"filter": "datum.value >= 0"}], "mark": {"type": "text", "align": "left", "dx": 5, "fontSize": 17}, "encoding": {"x": {"field": "hi", "type": "quantitative", "title": "kg N ha⁻¹ y⁻¹"}, "text": {"field": "letter"}}},
   {"transform": [{"filter": "datum.value < 0"}], "mark": {"type": "text", "align": "right", "dx": -5, "fontSize": 17}, "encoding": {"x": {"field": "lo", "type": "quantitative", "title": "kg N ha⁻¹ y⁻¹"}, "text": {"field": "letter"}}}
  ]},

 {"width": 410, "height": 134, "data": {"name": "flux"},
  "transform": [{"filter": "datum.panel === 'gas_cw'"}, {"lookup": "site", "from": {"data": {"name": "sites"}, "key": "site", "fields": ["group"]}}],
  "encoding": {"y": {"field": "site", "type": "nominal", "sort": ["MU16", "MO11", "UP02", "KL09", "JO17", "ZB00", "MG15", "AK22"], "scale": {"paddingInner": 0.16, "paddingOuter": 0.39}, "axis": null}},
  "layer": [
   {"mark": {"type": "bar"}, "encoding": {
    "x": {"field": "value", "type": "quantitative", "title": "kg N ha⁻¹ y⁻¹", "scale": {"domain": [-0.3, 0.2], "range": [108.3, 376], "nice": false}, "axis": {"values": [-0.3, -0.2, -0.1, 0, 0.1, 0.2], "format": ".1~f", "titleX": 243}},
    "color": {"field": "group", "type": "nominal", "scale": {"domain": ["Carbonate", "ModerMull", "Moder"], "range": ["#6f8fcc", "#f37d31", "#3cb371"]}, "legend": null},
    "opacity": {"condition": {"test": "datum.uncertain", "value": 0.45}, "value": 1},
    "stroke": {"condition": {"test": "datum.emphasis", "value": "#000000"}, "value": "#8c8c8c"},
    "strokeWidth": {"condition": {"test": "datum.emphasis", "value": 1.6}, "value": 0.6}}},
   {"mark": {"type": "errorbar", "ticks": true, "size": 5, "thickness": 1, "color": "#6e6e6e"}, "encoding": {"x": {"field": "lo", "type": "quantitative", "title": "kg N ha⁻¹ y⁻¹"}, "x2": {"field": "hi"}}},
   {"transform": [{"filter": "datum.value >= 0 && datum.lo >= 0"}], "mark": {"type": "text", "align": "right", "dx": -5, "fontSize": 10}, "encoding": {"x": {"datum": 0, "type": "quantitative", "title": "kg N ha⁻¹ y⁻¹"}, "text": {"field": "site"}}},
   {"transform": [{"filter": "datum.value >= 0 && datum.lo < 0"}], "mark": {"type": "text", "align": "right", "dx": -4, "fontSize": 10}, "encoding": {"x": {"field": "lo", "type": "quantitative", "title": "kg N ha⁻¹ y⁻¹"}, "text": {"field": "site"}}},
   {"transform": [{"filter": "datum.value < 0 && datum.hi <= 0"}], "mark": {"type": "text", "align": "left", "dx": 5, "fontSize": 10}, "encoding": {"x": {"datum": 0, "type": "quantitative", "title": "kg N ha⁻¹ y⁻¹"}, "text": {"field": "site"}}},
   {"transform": [{"filter": "datum.value < 0 && datum.hi > 0"}], "mark": {"type": "text", "align": "left", "dx": 5, "fontSize": 10}, "encoding": {"x": {"field": "hi", "type": "quantitative", "title": "kg N ha⁻¹ y⁻¹"}, "text": {"field": "site"}}},
   {"transform": [{"filter": "datum.value >= 0"}], "mark": {"type": "text", "align": "left", "dx": 5, "fontSize": 17}, "encoding": {"x": {"field": "hi", "type": "quantitative", "title": "kg N ha⁻¹ y⁻¹"}, "text": {"field": "letter"}}},
   {"transform": [{"filter": "datum.value < 0"}], "mark": {"type": "text", "align": "right", "dx": -5, "fontSize": 17}, "encoding": {"x": {"field": "lo", "type": "quantitative", "title": "kg N ha⁻¹ y⁻¹"}, "text": {"field": "letter"}}}
  ]},
 {"width": 36, "height": 227, "data": {"values": [{}]}, "layer": [
  {"mark": {"type": "text", "text": ["Gaseous", "loss"], "fontSize": 23, "fontWeight": "bold", "lineHeight": 28, "dy": -14}, "encoding": {"y": {"datum": 0.225, "type": "quantitative", "scale": {"domain": [0, 1], "reverse": true}, "axis": null}}},
  {"mark": {"type": "rule", "strokeWidth": 1.3, "color": "#000"}, "encoding": {"y": {"datum": 0.485, "type": "quantitative", "scale": {"domain": [0, 1], "reverse": true}, "axis": null}, "y2": {"datum": 0.965}}}
 ]},
 {"width": 436, "height": 134, "data": {"name": "flux"},
  "transform": [{"filter": "datum.panel === 'gas_nd'"}, {"lookup": "site", "from": {"data": {"name": "sites"}, "key": "site", "fields": ["group"]}}],
  "encoding": {"y": {"field": "site", "type": "nominal", "sort": ["MU16", "MO11", "UP02", "KL09", "JO17", "ZB00", "MG15", "AK22"], "scale": {"paddingInner": 0.16, "paddingOuter": 0.39}, "axis": null}},
  "layer": [
   {"mark": {"type": "bar"}, "encoding": {
    "x": {"field": "value", "type": "quantitative", "title": "kg N ha⁻¹ y⁻¹", "scale": {"domain": [-0.3, 0.4], "range": [34.7, 406.3], "nice": false}, "axis": {"values": [-0.3, -0.2, -0.1, 0, 0.1, 0.2, 0.3, 0.4], "format": ".1~f", "titleX": 202}},
    "color": {"field": "group", "type": "nominal", "scale": {"domain": ["Carbonate", "ModerMull", "Moder"], "range": ["#6f8fcc", "#f37d31", "#3cb371"]}, "legend": null},
    "opacity": {"condition": {"test": "datum.uncertain", "value": 0.45}, "value": 1},
    "stroke": {"condition": {"test": "datum.emphasis", "value": "#000000"}, "value": "#8c8c8c"},
    "strokeWidth": {"condition": {"test": "datum.emphasis", "value": 1.6}, "value": 0.6}}},
   {"mark": {"type": "errorbar", "ticks": true, "size": 5, "thickness": 1, "color": "#6e6e6e"}, "encoding": {"x": {"field": "lo", "type": "quantitative", "title": "kg N ha⁻¹ y⁻¹"}, "x2": {"field": "hi"}}},
   {"transform": [{"filter": "datum.value >= 0 && datum.lo >= 0"}], "mark": {"type": "text", "align": "right", "dx": -5, "fontSize": 10}, "encoding": {"x": {"datum": 0, "type": "quantitative", "title": "kg N ha⁻¹ y⁻¹"}, "text": {"field": "site"}}},
   {"transform": [{"filter": "datum.value >= 0 && datum.lo < 0"}], "mark": {"type": "text", "align": "right", "dx": -4, "fontSize": 10}, "encoding": {"x": {"field": "lo", "type": "quantitative", "title": "kg N ha⁻¹ y⁻¹"}, "text": {"field": "site"}}},
   {"transform": [{"filter": "datum.value < 0 && datum.hi <= 0"}], "mark": {"type": "text", "align": "left", "dx": 5, "fontSize": 10}, "encoding": {"x": {"datum": 0, "type": "quantitative", "title": "kg N ha⁻¹ y⁻¹"}, "text": {"field": "site"}}},
   {"transform": [{"filter": "datum.value < 0 && datum.hi > 0"}], "mark": {"type": "text", "align": "left", "dx": 8, "fontSize": 10}, "encoding": {"x": {"field": "hi", "type": "quantitative", "title": "kg N ha⁻¹ y⁻¹"}, "text": {"field": "site"}}},
   {"transform": [{"filter": "datum.value >= 0"}], "mark": {"type": "text", "align": "left", "dx": 5, "fontSize": 17}, "encoding": {"x": {"field": "hi", "type": "quantitative", "title": "kg N ha⁻¹ y⁻¹"}, "text": {"field": "letter"}}},
   {"transform": [{"filter": "datum.value < 0"}], "mark": {"type": "text", "align": "right", "dx": -5, "dy": -9, "fontSize": 17}, "encoding": {"x": {"field": "value", "type": "quantitative", "title": "kg N ha⁻¹ y⁻¹"}, "text": {"field": "letter"}}}
  ]},

 {"width": 410, "height": 33, "data": {"name": "groups"}, "layer": [
  {"mark": {"type": "bar", "stroke": "#b5b5b5", "strokeWidth": 0.6}, "encoding": {"x": {"field": "group", "type": "nominal", "sort": ["Carbonate", "ModerMull", "Moder"], "scale": {"range": [14, 676], "paddingInner": 0.771, "paddingOuter": 0}, "axis": null}, "color": {"field": "group", "type": "nominal", "scale": {"domain": ["Carbonate", "ModerMull", "Moder"], "range": ["#6f8fcc", "#f37d31", "#3cb371"]}, "legend": null}}},
  {"mark": {"type": "text", "align": "left", "dx": 48, "dy": -11.5, "fontSize": 19, "lineBreak": "\n", "lineHeight": 23}, "encoding": {"x": {"field": "group", "type": "nominal", "sort": ["Carbonate", "ModerMull", "Moder"], "axis": null}, "text": {"field": "label"}}}
 ]},
 {"width": 36, "height": 33, "mark": {"type": "text", "text": ""}},
 {"width": 436, "height": 33, "mark": {"type": "text", "text": ""}}
]
}
